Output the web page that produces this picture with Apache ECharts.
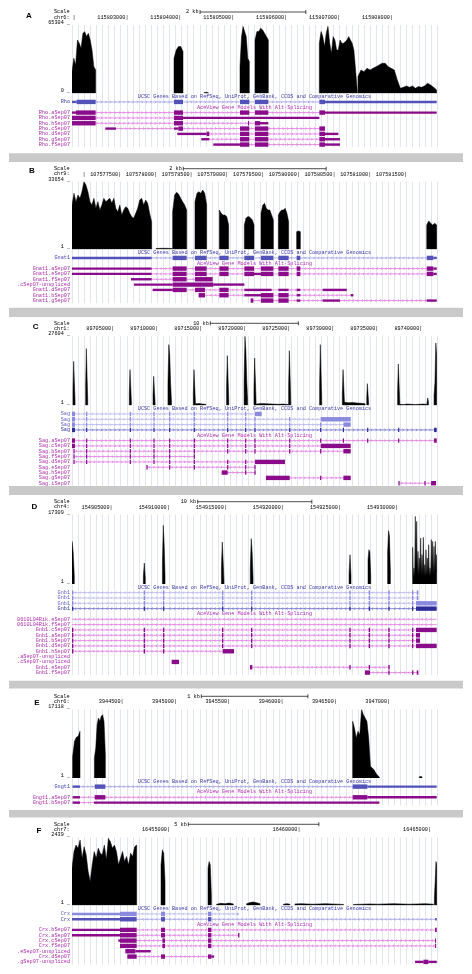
<!DOCTYPE html>
<html><head><meta charset="utf-8">
<script src="https://cdn.jsdelivr.net/npm/echarts@6/dist/echarts.min.js"></script>
<style>html,body{margin:0;padding:0;background:#fff}#c{width:472px;height:974px}</style>
</head><body><div id="c"></div>
<script>
// ================= DATA (x = bp offset from window start, y = reads) =================
// ---- Panel A : Rho ----
const startA = 115801932, lenA = 6899, chrA = 'chr6:', maxA = 65304, minLabelA = 0;
const ticksA = [115802000,115803000,115804000,115805000,115806000,115807000,115808000];
const scaleA = [2420, 4420], scaleTextA = '2 kb';
const covA = [
 [0,447,[20700,33500,27100,51000,47800,43000,57300,58900,54200,57300,51000,41400,25500,22300]],
 [1928,2098,[33500,41500,44700,44700,39900]],
 [2495,2577,[600,900,600]],
 [3175,3352,[25500,54200,63800,59000,54200,33500,30300]],
 [3459,3711,[51000,59000,59000,62200,60600,57400,54200,51000]],
 [4675,5393,[47900,59000,54200,44700,57400,63800,47900,38300,54200,51000,41500,41500,51000,47900,47900,49400,51000,54200,51000,47900,41500,22300,1600]],
 [5405,6892,[16000,22300,20700,23900,22300,23900,25500,27100,28700,28700,25500,23900,22300,12800,4800,5700,7000,5700,7000,4800,6400,5700,7000,9600,8000,5700,3200]]
];
const ucscA = [
 {n:'Rho', c:'u', s:0, e:6892, x:[[0,88,0],[88,447,1],[1928,2098,1],[3175,3352,1],[3459,3711,1],[4675,4782,1],[4782,6892,0]]}
];
const aceA = [
 {n:'Rho.aSep07', s:0, e:6892, x:[[0,76,0],[76,447,1],[1928,2098,1],[3175,3352,1],[3459,3711,1],[4675,4782,1],[4782,6892,0]]},
 {n:'Rho.eSep07', s:0, e:4675, x:[[0,447,1],[1928,2098,1],[2098,4675,0]]},
 {n:'Rho.hSep07', s:0, e:3711, x:[[0,447,1],[1928,2098,1],[3325,3345,1],[3459,3553,1],[3553,3711,0]]},
 {n:'Rho.cSep07', s:630, e:4782, x:[[630,832,0],[1928,2010,0],[2010,2098,1],[3175,3352,1],[3459,3711,1],[4675,4782,1]]},
 {n:'Rho.dSep07', s:1991, e:5034, x:[[1991,2545,0],[2545,2596,1],[3175,3352,1],[3459,3711,1],[4675,4782,1],[4782,5034,0]]},
 {n:'Rho.gSep07', s:2444, e:5065, x:[[2444,2596,0],[3175,3352,1],[3459,3711,1],[4675,4782,1],[4782,5065,0]]},
 {n:'Rho.fSep07', s:2671, e:5065, x:[[2671,3175,0],[3175,3352,1],[3459,3711,1],[4675,4782,1],[4782,5065,0]]}
];

// ---- Panel B : Gnat1 ----
const startB = 107576810, lenB = 5110, chrB = 'chr9:', maxB = 33654, minLabelB = 1;
const ticksB = [107577000,107577500,107578000,107578500,107579000,107579500,107580000,107580500,107581000,107581500];
const scaleB = [1558, 3558], scaleTextB = '2 kb';
const covB = [
 [0,1115,[22050,27850,23700,27000,25370,28680,33660,32000,28680,23700,22050,25370,20390,23700,19560,22050,25370,23700,24540,25370,22880,25370,20390,18740,22050,17080,19560,21220,20390,17910,16250,15420,17910,20390,24540,25370,22050,24540,22880,17910,13760]],
 [1176,1405,[400,500,500,400]],
 [1409,1605,[18740,27030,28350,27360,25370,23710,22050,19560]],
 [1722,1885,[23710,27850,28680,27850,29510,27850,22050]],
 [2063,2193,[19560,17910,17080,17080,16250,12100]],
 [2413,2548,[12100,15420,16250,16250,15420,14590,12100]],
 [2646,2819,[17910,22050,22880,20390,19560,19560,17080,14590]],
 [2889,3033,[17080,18740,19560,19560,20390,17910,13760]],
 [3145,3197,[8790,9120,8790]],
 [4966,5106,[12100,14090,12930,12100,12930,12100]]
];
const ucscB = [
 {n:'Gnat1', c:'u', s:0, e:5106, x:[[0,1115,0],[1409,1605,1],[1722,1885,1],[2063,2193,1],[2413,2548,1],[2646,2819,1],[2889,3033,1],[3145,3197,1],[4966,5059,1],[5059,5106,0]]}
];
const aceB = [
 {n:'Gnat1.aSep07', s:0, e:5106, x:[[0,1115,0],[1409,1605,1],[1722,1885,1],[2063,2193,1],[2413,2548,1],[2646,2819,1],[2889,3033,1],[3145,3197,1],[4966,5059,1],[5059,5106,0]]},
 {n:'Gnat1.eSep07', s:0, e:5106, x:[[0,1115,0],[1409,1605,1],[1722,1885,1],[2063,2193,1],[2413,2548,1],[2548,2646,0],[2646,2819,1],[2889,3033,1],[3145,3197,1],[4966,5059,1],[5059,5106,0]]},
 {n:'Gnat1.fSep07', s:826, e:1969, x:[[826,1115,0],[1409,1605,1],[1722,1969,1]]},
 {n:'.cSep07-unspliced', s:868, e:2413, x:[[868,1409,0],[1409,1979,1],[1979,2413,0]]},
 {n:'Gnat1.dSep07', s:1129, e:3846, x:[[1129,1409,0],[1409,1605,1],[1722,1862,1],[2063,2193,1],[2413,2795,0],[2889,3033,0],[3145,3197,0],[3509,3846,0]]},
 {n:'Gnat1.bSep07', s:1773, e:3939, x:[[1773,1862,1],[2063,2193,1],[2413,2646,0],[2646,2819,1],[2889,3033,1],[3145,3197,0],[3902,3939,0]]},
 {n:'Gnat1.gSep07', s:2501, e:5106, x:[[2501,2539,1],[2646,2819,1],[2889,3033,1],[3145,3197,0],[3509,3752,0],[4966,5106,0]]}
];

// ---- Panel C : Sag ----
const startC = 89700195, lenC = 41464, chrC = 'chr1:', maxC = 27604, minLabelC = 1;
const ticksC = [89705000,89710000,89715000,89720000,89725000,89730000,89735000,89740000];
const scaleC = [15711, 25711], scaleTextC = '10 kb';
const covC = [
 [110,350,[6000,17600,9500,1500]],
 [1550,1790,[7900,22680,12000,2000]],
 [6510,6750,[5000,14270,7800,1200]],
 [9200,9440,[4000,11610,6300,1000]],
 [10900,11300,[8500,24280,20000,9000,1500]],
 [13780,14020,[5000,14270,7800,1200]],
 [14030,15200,[600,700,500,400]],
 [17560,17810,[7000,19880,11000,1700]],
 [19550,19950,[9700,27610,22000,10000,2000]],
 [20670,20910,[6600,18940,10400,1700]],
 [20920,24600,[500,700,600,500,400,500,300]],
 [24610,24850,[7700,21880,12000,2000]],
 [28130,28370,[8500,24280,13400,2200]],
 [30710,30950,[5000,14270,7800,1300]],
 [30960,33300,[1200,1000,1100,900,800,600]],
 [33480,33700,[3000,8670,4700,800]],
 [36990,37230,[5800,16540,9000,1500]],
 [37240,40300,[400,300,500,400,300,400,500,400]],
 [40330,40490,[1000,2930,1500]],
 [41130,41430,[4000,9000,24950,20000]]
];
const ucscC = [
 {n:'Sag', c:'ul', s:0, e:21548, x:[[0,341,1],[1596,1736,1],[6557,6697,1],[9246,9386,1],[11026,11166,1],[13828,13968,1],[17615,17755,1],[19660,19800,1],[20790,21548,1]]},
 {n:'Sag', c:'ul', s:0, e:31660, x:[[0,341,1],[1596,1736,1],[6557,6697,1],[9246,9386,1],[11026,11166,1],[13828,13968,1],[17615,17755,1],[19660,19800,1],[20720,20860,1],[24660,24800,1],[28250,31660,1]]},
 {n:'Sag', c:'ul', s:0, e:31660, x:[[0,341,1],[1596,1736,1],[6557,6697,1],[9246,9386,1],[11026,11166,1],[13828,13968,1],[17615,17755,1],[19660,19800,1],[20720,20860,1],[24660,24800,1],[28180,28320,1],[30830,31660,1]]},
 {n:'Sag', c:'ud', s:0, e:41430, x:[[0,341,1],[1596,1736,1],[6557,6697,1],[9246,9386,1],[11026,11166,1],[13828,13968,1],[17615,17755,1],[19660,19800,1],[20720,20860,1],[24660,24800,1],[28180,28320,1],[30760,30900,1],[33520,33660,1],[37040,37180,1],[41130,41430,1]]}
];
const aceC = [
 {n:'Sag.aSep07', s:0, e:41430, x:[[0,341,1],[1596,1736,1],[6557,6697,1],[9246,9386,1],[11026,11166,1],[13828,13968,1],[17615,17755,1],[19660,19800,1],[20720,20860,1],[24660,24800,1],[28180,28320,1],[30760,30900,1],[33520,33660,1],[37040,37180,1],[41130,41430,1]]},
 {n:'Sag.cSep07', s:0, e:31660, x:[[0,341,1],[1596,1736,1],[6557,6697,1],[9246,9386,1],[11026,11166,1],[13828,13968,1],[17615,17755,1],[19660,19800,1],[20720,20860,1],[24660,24800,1],[28250,31660,1]]},
 {n:'Sag.bSep07', s:227, e:31660, x:[[157,297,1],[1596,1736,1],[6557,6697,1],[9246,9386,1],[11026,11166,1],[13828,13968,1],[17615,17755,1],[19660,19800,1],[20720,20860,1],[24660,24800,1],[28180,28320,1],[30830,31660,1]]},
 {n:'Sag.fSep07', s:227, e:13968, x:[[157,297,1],[1596,1736,1],[6557,6697,1],[9246,9386,1],[11026,11166,1],[13828,13968,1]]},
 {n:'Sag.dSep07', s:227, e:24200, x:[[157,297,1],[1596,1736,1],[6557,6697,1],[9246,9386,1],[11026,11166,1],[13828,13968,1],[17615,17755,1],[19660,19800,1],[20790,24200,1]]},
 {n:'Sag.eSep07', s:8521, e:20860, x:[[8451,8591,1],[11026,11166,1],[13828,13968,1],[17615,17755,1],[19660,19800,1],[20720,20860,1]]},
 {n:'Sag.hSep07', s:17004, e:20860, x:[[17004,17685,1],[19660,19800,1],[20720,20860,1]]},
 {n:'Sag.gSep07', s:22040, e:31660, x:[[22040,24730,1],[28180,28320,1],[30830,31660,1]]},
 {n:'Sag.iSep07', s:37150, e:41350, x:[[37080,37220,1],[40030,40170,1],[40790,41350,1]]}
];

// ---- Panel D : Gnb1 ----
const startD = 154901435, lenD = 31974, chrD = 'chr4:', maxD = 17309, minLabelD = 1;
const ticksD = [154905000,154910000,154915000,154920000,154925000,154930000];
const scaleD = [11011, 21011], scaleTextD = '10 kb';
const covD = [
 [0,200,[10650,8000,2000]],
 [6250,6420,[2000,5240,1500]],
 [7920,8150,[5000,14640,10000,2000]],
 [13090,13310,[4000,10480,6000,1000]],
 [15620,15860,[4000,11320,8000,1500]],
 [24270,24440,[2500,7320,2000]],
 [25930,26170,[6000,8570,8000,2000]],
 [27650,27890,[8000,13310,12000,3000]],
 [29842,31945,[9150,1500,3990,1800,16890,4000,15640,2500,8150,2000,6490,2500,11480,2000,7320,2200,11650,1800,4830,2000,8570,2200,6490,2000,9820,1800,3990,2000,11070,2500,10650,2200,9400,2500,10650,3000,7320]]
];
const exonsGnb1 = [[0,118,1],[6276,6396,1],[7970,8090,1],[13138,13258,1],[15679,15799,1],[24293,24413,1],[25986,26106,1],[27709,27829,1],[29782,29902,1]];
const ucscD = [
 {n:'Gnb1', c:'ul', s:0, e:30339, x:[...exonsGnb1,[30200,30339,1]]},
 {n:'Gnb1', c:'ul', s:0, e:30339, x:[...exonsGnb1,[30200,30339,1]]},
 {n:'Gnb1', c:'ul', s:0, e:31945, x:[...exonsGnb1,[30134,31945,1]]},
 {n:'Gnb1', c:'ud', s:0, e:31945, x:[...exonsGnb1,[30134,31945,1]]}
];
const aceD = [
 {n:'0610L04Rik.eSep07', s:0, e:31945, x:[]},
 {n:'0610L04Rik.fSep07', s:0, e:31945, x:[]},
 {n:'Gnb1.cSep07', s:0, e:31945, x:[...exonsGnb1,[30134,31945,1]]},
 {n:'Gnb1.aSep07', s:0, e:30485, x:[...exonsGnb1,[30134,30485,1]]},
 {n:'Gnb1.bSep07', s:0, e:30485, x:[...exonsGnb1,[30134,30485,1]]},
 {n:'Gnb1.dSep07', s:0, e:31945, x:[...exonsGnb1,[30134,31945,1]]},
 {n:'Gnb1.hSep07', s:0, e:14191, x:[[0,118,1],[6276,6396,1],[7970,8090,1],[13198,14191,1]]},
 {n:'.aSep07-unspliced', s:null, e:null, x:[]},
 {n:'.cSep07-unspliced', s:8731, e:9373, x:[[8731,9373,1]]},
 {n:'Gnb1.eSep07', s:15593, e:27829, x:[[15593,15799,1],[24293,24413,1],[25986,26106,1],[27709,27829,1]]},
 {n:'Gnb1.fSep07', s:25667, e:30339, x:[[25667,26106,1],[27709,27829,1],[29782,29902,1],[30200,30339,1]]}
];

// ---- Panel E : Gngt1 ----
const startE = 3944015, lenE = 3424, chrE = 'chr6:', maxE = 17118, minLabelE = 1;
const ticksE = [3944500,3945000,3945500,3946000,3946500,3947000];
const scaleE = [1213, 2213], scaleTextE = '1 kb';
const covE = [
 [6,75,[5400,9140,10140,10390,11630]],
 [210,313,[4990,7480,13300,14960,14130,15370,15790,14130,5820]],
 [2633,2883,[14130,12470,9970,11630,10800,17040,15790,14960,14130,9970,2910,2490,2080,1250,660,250]],
 [3258,3283,[300,400,300]]
];
const ucscE = [
 {n:'Gngt1', c:'u', s:0, e:3421, x:[[6,75,0],[213,313,1],[2633,2771,1],[2771,3421,0]]}
];
const aceE = [
 {n:'Gngt1.aSep07', s:6, e:3421, x:[[6,75,0],[213,313,1],[2633,2771,1],[2771,3421,0]]},
 {n:'Gngt1.bSep07', s:6, e:2883, x:[[6,75,0],[206,2883,0]]}
];

// ---- Panel F : Crx ----
const startF = 16451247, lenF = 13980, chrF = 'chr7:', maxF = 2439, minLabelF = 1;
const ticksF = [16455000,16460000,16465000];
const scaleF = [4455, 9455], scaleTextF = '5 kb';
const covF = [
 [0,2477,[1330,1930,2160,2050,2340,1690,2100,1810,1210,850,1450,1930,1690,2050,1870,1810,2160,1630,2400,2280,2050,2160,1930,1450,1690,1930,1570,1750,1450,1870,1750,2100,2160]],
 [3410,3563,[1450,1990,1870,850]],
 [5210,5338,[1330,1570,1450,370]],
 [5540,6180,[40,70,60,80,50]],
 [6690,7200,[60,100,120,90,60]],
 [8100,8350,[40,60,40]],
 [8540,10400,[50,60,50,40,50,60,50,40,30]],
 [10780,13840,[30,40,50,40,50,60,50,40,50,60,40]],
 [13880,13970,[250,850,1570,1450]]
];
const ucscF = [
 {n:'Crx', c:'ul', s:0, e:6372, x:[[0,1839,0],[1839,2477,1],[3410,3563,1],[5210,5338,1],[6330,6372,0]]},
 {n:'Crx', c:'u', s:0, e:13970, x:[[0,1839,0],[1839,2477,1],[3410,3563,1],[5210,5338,1],[13906,13970,0]]}
];
const aceF = [
 {n:'Crx.bSep07', s:0, e:13970, x:[[0,1839,0],[1839,2477,1],[3410,3563,1],[5210,5338,1],[13906,13970,1]]},
 {n:'Crx.aSep07', s:0, e:6411, x:[[0,1839,0],[1839,2477,1],[3410,3563,1],[5210,5338,1],[6360,6411,1]]},
 {n:'Crx.cSep07', s:1775, e:13945, x:[[1775,1839,0],[1839,2477,1],[3461,3563,1],[5210,5338,1],[13906,13945,1]]},
 {n:'Crx.fSep07', s:1839, e:13945, x:[[1839,2477,1],[3461,3563,1],[5210,5338,1],[13906,13945,1]]},
 {n:'.eSep07-unspliced', s:2043, e:3014, x:[[2043,2426,1],[2426,3014,0]]},
 {n:'Crx.dSep07', s:2120, e:5440, x:[[2120,2477,1],[3410,3563,1],[5210,5338,1],[5338,5440,0]]},
 {n:'.gSep07-unspliced', s:13140, e:13970, x:[[13140,13460,0],[13460,13650,1],[13650,13970,0]]}
];

// ================= LAYOUT =================
const panels = [
 {id:'A', start:startA, len:lenA, chr:chrA, max:maxA, minLabel:minLabelA, ticks:ticksA, scale:scaleA, scaleText:scaleTextA, cov:covA, ucsc:ucscA, ace:aceA, strand:1},
 {id:'B', start:startB, len:lenB, chr:chrB, max:maxB, minLabel:minLabelB, ticks:ticksB, scale:scaleB, scaleText:scaleTextB, cov:covB, ucsc:ucscB, ace:aceB, strand:-1},
 {id:'C', start:startC, len:lenC, chr:chrC, max:maxC, minLabel:minLabelC, ticks:ticksC, scale:scaleC, scaleText:scaleTextC, cov:covC, ucsc:ucscC, ace:aceC, strand:1},
 {id:'D', start:startD, len:lenD, chr:chrD, max:maxD, minLabel:minLabelD, ticks:ticksD, scale:scaleD, scaleText:scaleTextD, cov:covD, ucsc:ucscD, ace:aceD, strand:-1},
 {id:'E', start:startE, len:lenE, chr:chrE, max:maxE, minLabel:minLabelE, ticks:ticksE, scale:scaleE, scaleText:scaleTextE, cov:covE, ucsc:ucscE, ace:aceE, strand:1},
 {id:'F', start:startF, len:lenF, chr:chrF, max:maxF, minLabel:minLabelF, ticks:ticksF, scale:scaleF, scaleText:scaleTextF, cov:covF, ucsc:ucscF, ace:aceF, strand:-1}
];
const layout = [
 {plotTop:25,    baseline:93.3,  lx:29,   ly:15.7},
 {plotTop:181.7, baseline:249.3, lx:32,   ly:171},
 {plotTop:336.3, baseline:405.3, lx:35.7, ly:327},
 {plotTop:514.7, baseline:584,   lx:34.5, ly:506.3},
 {plotTop:709.3, baseline:778,   lx:37,   ly:703},
 {plotTop:837.3, baseline:905.3, lx:39,   ly:830.5}
];
const separators = [[153.3,162],[307.7,317],[486,495],[680.7,688.5],[810,817.5]];
const PITCH = 5.33;
const MONO = '"Liberation Mono","DejaVu Sans Mono",monospace';
const FS = 5.2;
const COLORS = {
 u:  {ex:'#5252b8', ln:'#9c9ce2', tx:'#3c3ca8'},
 ul: {ex:'#8a8adf', ln:'#b4b4ef', tx:'#5c5cc4'},
 ud: {ex:'#2e2e9a', ln:'#6c6ccc', tx:'#2e2e9a'},
 a:  {ex:'#8a0c8a', ln:'#df78df', tx:'#a82aa8'}
};

function txt(text, x, y, align, fill, extra) {
  return {type:'text', silent:true, style:Object.assign({text, x, y, fill, fontSize:FS, fontFamily:MONO, align, verticalAlign:'middle'}, extra||{})};
}
// coverage block -> filled polygon, through the axis scales
function covRender(P) {
  return (params, api) => {
    const [s, e, h] = P.cov[params.dataIndex];
    const n = h.length;
    const pts = [api.coord([s, 0])];
    h.forEach((v, i) => pts.push(api.coord([n > 1 ? s + (e - s) * i / (n - 1) : s, v])));
    pts.push(api.coord([e, 0]));
    return {type:'polygon', silent:true, shape:{points:pts}, style:{fill:'#000', stroke:'#000', lineWidth:0.5}};
  };
}
function headerRender(P, L) {
  return (params, api) => {
    const top = params.coordSys.y;
    const ys = top - 13;
    const x1 = api.coord([P.scale[0], 0])[0], x2 = api.coord([P.scale[1], 0])[0];
    const ln = (a, b, c, d) => ({type:'line', silent:true, shape:{x1:a, y1:b, x2:c, y2:d}, style:{stroke:'#000', lineWidth:0.7}});
    return {type:'group', children:[
      txt('Scale', 69.5, ys, 'right', '#000'),
      txt(P.chr, 69.5, top - 7.7, 'right', '#000'),
      {type:'text', silent:true, style:{text:P.id, x:L.lx, y:L.ly, fill:'#000', fontSize:8, fontWeight:'bold', fontFamily:'"Liberation Sans",Arial,sans-serif', align:'center', verticalAlign:'middle'}},
      ln(x1, ys, x2, ys), ln(x1, ys - 2, x1, ys + 2), ln(x2, ys - 2, x2, ys + 2),
      txt(P.scaleText, x1 - 1.5, ys, 'right', '#000')
    ]};
  };
}
function trackRender(P, rows) {
  return (params, api) => {
    const r = rows[params.dataIndex];
    const y = api.coord([0, params.dataIndex + 0.5])[1];
    const cs = params.coordSys;
    const ch = [];
    if (r.title) {
      ch.push(txt(r.title, cs.x + cs.width / 2, y, 'center', r.col));
      return {type:'group', children:ch};
    }
    const c = COLORS[r.kind];
    ch.push(txt(r.n, 70, y, 'right', c.tx));
    if (r.s != null) {
      const xa = api.coord([r.s, 0])[0], xb = api.coord([r.e, 0])[0];
      ch.push({type:'line', silent:true, shape:{x1:xa, y1:y, x2:xb, y2:y}, style:{stroke:c.ln, lineWidth:0.8}});
      const ex = r.x.map(([s, e, t]) => [api.coord([s, 0])[0], api.coord([e, 0])[0], t]);
      const d = P.strand;
      for (let x = xa + 3; x < xb - 2; x += 4.5) {
        if (ex.some(([a, b]) => x > a - 1.5 && x < b + 1.5)) continue;
        ch.push({type:'polyline', silent:true, shape:{points:[[x - d, y - 1.3], [x, y], [x - d, y + 1.3]]}, style:{stroke:c.ln, lineWidth:0.7, fill:null}});
      }
      ex.forEach(([a, b, t]) => {
        const h = t ? 4.4 : 2.4;
        ch.push({type:'rect', silent:true, shape:{x:a, y:y - h / 2, width:Math.max(b - a, 1), height:h}, style:{fill:c.ex}});
      });
    }
    return {type:'group', children:ch};
  };
}

const grids = [], xAxes = [], yAxes = [], series = [];
panels.forEach((P, p) => {
  const L = layout[p];
  const rows = [{title:'UCSC Genes Based on RefSeq, UniProt, GenBank, CCDS and Comparative Genomics', col:'#3a3aa6'}]
    .concat(P.ucsc.map(g => Object.assign({kind:g.c}, g)))
    .concat([{title:'AceView Gene Models With Alt-Splicing', col:'#b22db2'}])
    .concat(P.ace.map(g => Object.assign({kind:'a'}, g)));
  const nRows = rows.length;
  const trTop = L.baseline + 3.3 - PITCH / 2;
  const trH = nRows * PITCH;
  const gi = grids.length;
  const bpp = P.len / 365;
  grids.push({left:72, width:365, top:L.plotTop, height:L.baseline - L.plotTop});
  grids.push({left:72, width:365, top:trTop, height:trH});
  grids.push({left:72, width:365, top:L.plotTop, height:trTop + trH - L.plotTop});
  xAxes.push({gridIndex:gi, type:'value', min:0, max:P.len, position:'top',
    axisLine:{show:false}, axisTick:{show:false}, splitLine:{show:false},
    axisLabel:{customValues:P.ticks.map(t => t - P.start), formatter:v => (v / bpp < 30 ? '|' : (P.start + v) + '|'),
      align:'right', margin:5, fontSize:FS, fontFamily:MONO, color:'#000'}});
  yAxes.push({gridIndex:gi, type:'value', min:0, max:P.max,
    axisLine:{show:false}, axisTick:{show:false}, splitLine:{show:false},
    axisLabel:{customValues:[P.minLabel, P.max], formatter:v => v + ' _', verticalAlign:'bottom', margin:2, fontSize:FS, fontFamily:MONO, color:'#000'}});
  xAxes.push({gridIndex:gi + 1, type:'value', min:0, max:P.len, show:false});
  yAxes.push({gridIndex:gi + 1, type:'value', min:0, max:nRows, inverse:true, show:false});
  xAxes.push({gridIndex:gi + 2, type:'value', min:0, max:60, interval:1,
    axisLine:{show:false}, axisTick:{show:false}, axisLabel:{show:false},
    splitLine:{show:true, lineStyle:{color:'#e2e4f1', width:1}}});
  yAxes.push({gridIndex:gi + 2, type:'value', min:0, max:1, show:false});

  series.push({type:'custom', xAxisIndex:gi, yAxisIndex:gi, data:P.cov.map(b => [b[0], b[1]]),
    renderItem:covRender(P), clip:true, silent:true, z:3});
  series.push({type:'custom', xAxisIndex:gi, yAxisIndex:gi, data:[[0, 0]], renderItem:headerRender(P, L), silent:true, z:4});
  series.push({type:'custom', xAxisIndex:gi + 1, yAxisIndex:gi + 1, data:rows.map((r, i) => [0, i]), renderItem:trackRender(P, rows), silent:true, z:4});
});

const chart = echarts.init(document.getElementById('c'), null, {renderer:'canvas', width:472, height:974});
chart.setOption({
  animation:false,
  backgroundColor:'#fff',
  grid:grids, xAxis:xAxes, yAxis:yAxes, series:series,
  graphic:separators.map(([a, b]) => ({type:'rect', silent:true, shape:{x:9, y:a, width:454, height:b - a}, style:{fill:'#c9c9c9'}}))
});
</script>
</body></html>
